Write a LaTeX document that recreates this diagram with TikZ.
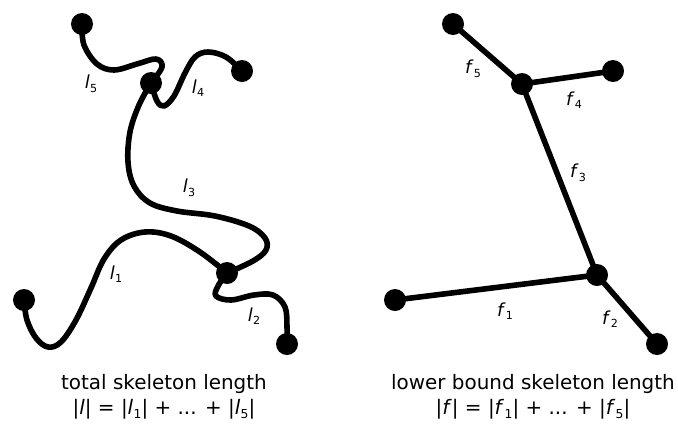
\documentclass[tikz,border=0pt]{standalone}
\usepackage{graphicx}
\usepackage{fontspec}
\setmainfont{DejaVu Sans}
\newcommand\sk[2]{\textit{#1}\kern0.02em\raisebox{-0.2em}{\scalebox{0.62}{#2}}}
\begin{document}
\begin{tikzpicture}[x=1bp,y=-1bp]
\tikzset{
 dot/.style={circle, fill=black, inner sep=0pt, minimum size=22bp},
 skel/.style={line width=5.6bp, line cap=round, line join=round},
 lbl/.style={font=\fontsize{18}{20}\selectfont, inner sep=0pt},
 capt/.style={font=\fontsize{20}{25}\selectfont, align=center, inner sep=0pt}
}
\useasboundingbox (0,0) rectangle (678,425);
% left nodes
\node[dot] (a5) at (82,24) {};
\node[dot] (j1) at (151,83) {};
\node[dot] (a4) at (242,71) {};
\node[dot] (j2) at (227,273) {};
\node[dot] (a1) at (24,300) {};
\node[dot] (a2) at (287,344) {};
% left curves
\draw[skel] plot[smooth, tension=0.6] coordinates {(a5.center) (84,45) (97,64) (114,70) (137,64) (156,59) (162,67) (j1.center)};
\draw[skel] plot[smooth, tension=0.6] coordinates {(j1.center) (157,101) (164,106) (174,96) (185,73) (195,57) (208,52) (226,57) (a4.center)};
\draw[skel] plot[smooth, tension=0.6] coordinates {(j1.center) (139,105) (130,132) (128,162) (134,186) (150,203) (177,211) (215,216) (249,226) (265,238) (266,250) (253,261) (j2.center)};
\draw[skel] plot[smooth, tension=0.6] coordinates {(j2.center) (200,252) (171,236) (145,232) (121,240) (104,259) (91,288) (76,320) (61,342) (48,347) (36,338) (27,320) (a1.center)};
\draw[skel] plot[smooth, tension=0.6] coordinates {(j2.center) (218,286) (216,296) (231,300) (254,295) (273,295) (285,307) (287,327) (a2.center)};
% left labels
\node[lbl] (tl5) at (91,84) {\sk{l}{5}};
\node[lbl] (tl4) at (198,88) {\sk{l}{4}};
\node[lbl] (tl3) at (189,188) {\sk{l}{3}};
\node[lbl] (tl1) at (116,274) {\sk{l}{1}};
\node[lbl] (tl2) at (254,316) {\sk{l}{2}};
% right nodes
\node[dot] (b5) at (453,24) {};
\node[dot] (k1) at (522,84) {};
\node[dot] (b4) at (613,71) {};
\node[dot] (k2) at (597,275) {};
\node[dot] (b1) at (395,300) {};
\node[dot] (b2) at (657,344) {};
\draw[skel] (b5.center) -- (k1.center);
\draw[skel] (k1.center) -- (b4.center);
\draw[skel] (k1.center) -- (k2.center);
\draw[skel] (k2.center) -- (b1.center);
\draw[skel] (k2.center) -- (b2.center);
% right labels
\node[lbl] (tf5) at (473,69) {\sk{f}{5}};
\node[lbl] (tf4) at (574,100) {\sk{f}{4}};
\node[lbl] (tf3) at (578,173) {\sk{f}{3}};
\node[lbl] (tf1) at (505,311) {\sk{f}{1}};
\node[lbl] (tf2) at (610,319) {\sk{f}{2}};
% captions
\node[capt] (c1) at (164,397) {total skeleton length\\ |\textit{l}| = |\sk{l}{1}| + ... + |\sk{l}{5}|};
\node[capt] (c2) at (533,397) {lower bound skeleton length\\ |\textit{f}| = |\sk{f}{1}| + ... + |\sk{f}{5}|};
\end{tikzpicture}
\end{document}
